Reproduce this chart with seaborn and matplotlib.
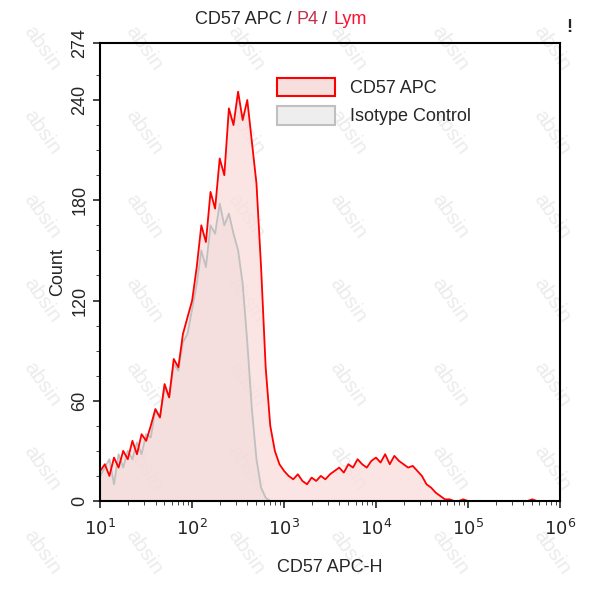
import numpy as np
import matplotlib
matplotlib.use("Agg")
import matplotlib.pyplot as plt
import seaborn as sns
from matplotlib.patches import Patch

sns.set_style("white")
plt.rcParams['font.family'] = ['Liberation Sans', 'DejaVu Sans']

# bin centers in log10 units (step 0.05)
log_x = [1.0 + 0.05 * i for i in range(101)]
cd57 = [18, 22, 15, 26, 20, 30, 25, 36, 28, 40,
        36, 45, 55, 50, 70, 62, 85, 80, 100, 110,
        120, 140, 165, 155, 185, 175, 205, 195, 235, 225,
        245, 228, 240, 215, 190, 140, 80, 45, 30, 22,
        18, 15, 13, 16, 12, 10, 14, 12, 15, 13,
        16, 18, 20, 17, 22, 20, 25, 22, 20, 24,
        26, 23, 28, 22, 27, 24, 22, 20, 21, 18,
        15, 10, 8, 5, 3, 1, 1, 0, 0, 1,
        0, 0, 0, 0, 0, 0, 0, 0, 0, 0,
        0, 0, 0, 0, 1, 0, 0, 0, 0, 0, 0]
isotype = [15, 20, 25, 10, 28, 20, 30, 25, 35, 28,
           40, 38, 55, 50, 68, 62, 82, 78, 95, 100,
           115, 130, 150, 140, 165, 160, 178, 165, 172, 160,
           150, 130, 95, 55, 25, 8, 2, 0, 0, 0] + [0] * 61

x = [10 ** v for v in log_x]

fig = plt.figure(figsize=(5.93, 6.0), dpi=100)
ax = fig.add_axes([0.169, 0.165, 0.775, 0.763])

for xi in np.linspace(0.07, 0.93, 6):
    for yi in np.linspace(0.08, 0.92, 7):
        fig.text(xi, yi, "absin", fontsize=15, color="#ececec", rotation=-55,
                 ha="center", va="center", zorder=-5)

ax.patch.set_alpha(0)
ax.fill_between(x, cd57, color="#f9dede", alpha=0.8, lw=0)
ax.fill_between(x, isotype, color="#f0dada", alpha=0.6, lw=0)
sns.lineplot(x=x, y=isotype, ax=ax, color="#c0c0c0", lw=1.3)
sns.lineplot(x=x, y=cd57, ax=ax, color="#ff0000", lw=1.3)

ax.set_xscale("log")
ax.set_xlim(10, 1e6)
ax.set_ylim(0, 274)
ax.set_yticks([0, 60, 120, 180, 240, 274])
ax.set_yticklabels(["0", "60", "120", "180", "240", "274"], rotation=90, va="center")
ax.set_xticks([10, 100, 1e3, 1e4, 1e5, 1e6])
ax.set_xticklabels([r"$10^1$", r"$10^2$", r"$10^3$", r"$10^4$", r"$10^5$", r"$10^6$"])
ax.tick_params(axis="both", labelsize=13, direction="out", length=5, width=1.2,
               bottom=True, left=True)
ax.tick_params(axis="x", pad=8)
ax.tick_params(axis="x", which="minor", length=3, bottom=True)
ax.set_yticks([15, 30, 45, 75, 90, 105, 135, 150, 165, 195, 210, 225, 255], minor=True)
ax.tick_params(axis="y", which="minor", length=3, left=True)
for s in ax.spines.values():
    s.set_linewidth(1.5)
    s.set_color("black")
ax.set_xlabel("CD57 APC-H", fontsize=13, labelpad=14)
ax.set_ylabel("Count", fontsize=13)

fig.text(0.5, 0.968, "CD57 APC / ", fontsize=13, ha="right", va="center")
fig.text(0.5, 0.968, "P4", fontsize=13, color="#c0304a", ha="left", va="center")
fig.text(0.535, 0.968, " / ", fontsize=13, ha="left", va="center")
fig.text(0.562, 0.968, "Lym", fontsize=13, color="#ff1030", ha="left", va="center")
fig.text(0.96, 0.955, "!", fontsize=13, fontweight="bold", ha="center", va="center")

handles = [Patch(facecolor="#f9dede", edgecolor="#ff0000", lw=1.5, label="CD57 APC"),
           Patch(facecolor="#eeeeee", edgecolor="#c0c0c0", lw=1.5, label="Isotype Control")]
ax.legend(handles=handles, loc="upper left", bbox_to_anchor=(0.35, 0.96), frameon=False,
          fontsize=13, handlelength=3.2, handleheight=1.2, labelspacing=0.5)

fig.savefig("out.png", dpi=100)
